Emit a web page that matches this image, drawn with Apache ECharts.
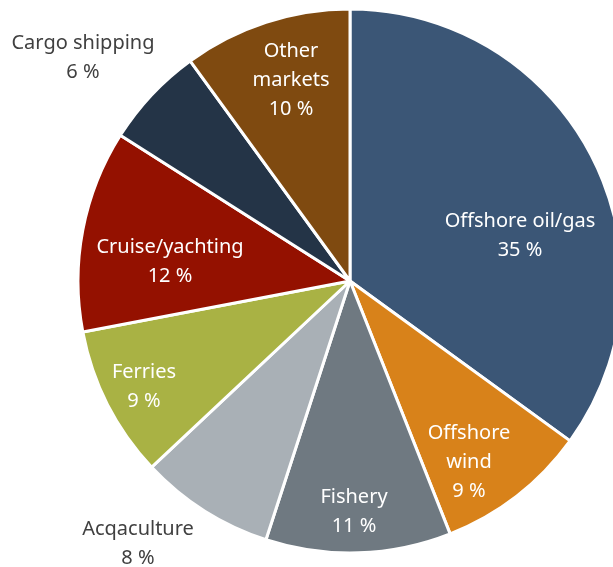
<!DOCTYPE html>
<html>
<head>
<meta charset="utf-8">
<script src="https://cdn.jsdelivr.net/npm/echarts@6/dist/echarts.min.js"></script>
<style>
  html, body { margin: 0; padding: 0; background: #fff; }
  #chart { width: 613px; height: 567px; }
</style>
</head>
<body>
<div id="chart"></div>
<script>
// Market segments, clockwise from 12 o'clock
const categories = ['Offshore oil/gas', 'Offshore\nwind', 'Fishery', 'Acqaculture', 'Ferries', 'Cruise/yachting', 'Cargo shipping', 'Other\nmarkets'];
const shares = [35, 9, 11, 8, 9, 12, 6, 10];
const colors = ['#3B5676', '#D8821A', '#6F7981', '#A9B0B6', '#A9B244', '#941100', '#243447', '#7F4A10'];
// Segments whose label sits outside the pie
const outsideLabels = [false, false, false, true, false, false, true, false];
// Label centres in pixels
const labelCentres = [[520, 236], [469, 462], [354, 512], [138, 544], [144, 387], [170, 262], [83, 58], [291, 80]];

const chart = echarts.init(document.getElementById('chart'), null, { renderer: 'canvas' });
chart.setOption({
  animation: false,
  series: [{
    type: 'pie',
    center: [350, 281],
    radius: [0, 272],
    startAngle: 90,
    clockwise: true,
    avoidLabelOverlap: false,
    itemStyle: { borderColor: '#ffffff', borderWidth: 3 },
    label: {
      show: true,
      position: 'inside',
      formatter: p => p.name + '\n' + p.value + ' %',
      fontFamily: 'Noto Sans',
      fontSize: 20,
      lineHeight: 29,
      align: 'center'
    },
    labelLine: { show: false },
    labelLayout: p => ({
      x: labelCentres[p.dataIndex][0],
      y: labelCentres[p.dataIndex][1],
      align: 'center',
      verticalAlign: 'middle'
    }),
    emphasis: { disabled: true },
    data: categories.map((name, i) => ({
      name: name,
      value: shares[i],
      itemStyle: { color: colors[i] },
      label: { color: outsideLabels[i] ? '#404040' : '#ffffff' }
    }))
  }]
});
</script>
</body>
</html>
